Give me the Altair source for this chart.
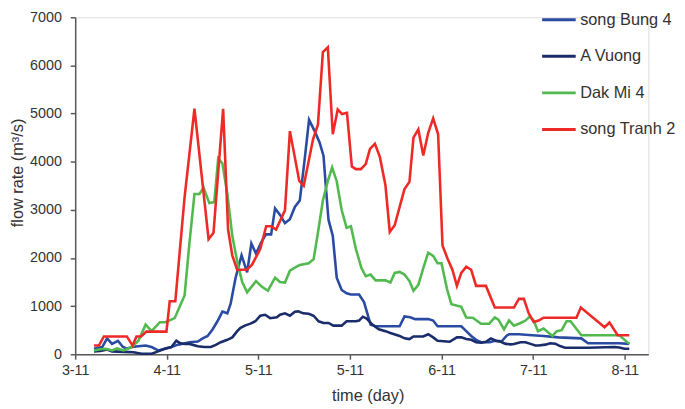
import json
import altair as alt
import pandas as pd

series_names = ["song Bung 4", "A Vuong", "Dak Mi 4", "song Tranh 2"]
series_colors = ["#2B4BA3", "#1B2C6B", "#52B94F", "#EE2A27"]

tick_days = [0, 1, 2, 3, 4, 5, 6]
tick_labels = ["3-11", "4-11", "5-11", "5-11", "6-11", "7-11", "8-11"]
y_ticks = [0, 1000, 2000, 3000, 4000, 5000, 6000, 7000]

bung_days = [0.205, 0.295, 0.348, 0.402, 0.467, 0.521, 0.564, 0.618, 0.690, 0.769, 0.834, 0.906, 0.978, 1.050,
             1.122, 1.176, 1.248, 1.338, 1.392, 1.446, 1.499, 1.553, 1.607, 1.661, 1.697, 1.751, 1.816, 1.877,
             1.923, 1.974, 2.031, 2.082, 2.139, 2.182, 2.236, 2.290, 2.344, 2.398, 2.452, 2.506, 2.553, 2.614,
             2.668, 2.711, 2.740, 2.765, 2.812, 2.855, 2.909, 2.963, 3.010, 3.099, 3.153, 3.225, 3.279, 3.542,
             3.595, 3.657, 3.711, 3.854, 3.908, 3.956, 4.215, 4.269, 4.323, 4.377, 4.430, 4.527, 4.581, 4.657,
             4.707, 4.736, 4.844, 4.951, 5.113, 5.275, 5.526, 5.599, 5.940, 6.049]
bung_vals = [115, 150, 330, 215, 280, 150, 115, 150, 165, 180, 150, 80, 115, 150,
             200, 220, 250, 265, 330, 380, 515, 685, 885, 850, 1050, 1590, 2055, 1700,
             2300, 2090, 2325, 2490, 2490, 3030, 2895, 2725, 2805, 3060, 3195, 4065, 4870, 4635,
             4400, 4120, 3395, 2795, 2460, 1590, 1335, 1265, 1240, 1240, 1085, 615, 580, 580,
             785, 770, 730, 730, 700, 580, 580, 480, 380, 300, 250, 250, 280, 270,
             380, 415, 415, 400, 380, 350, 330, 230, 230, 215]

vuong_days = [0.205, 0.277, 0.348, 0.402, 0.529, 0.636, 0.726, 0.834, 0.906, 0.978, 1.050, 1.104, 1.140, 1.194,
              1.248, 1.338, 1.410, 1.481, 1.535, 1.589, 1.661, 1.715, 1.769, 1.805, 1.859, 1.913, 1.967, 2.021,
              2.074, 2.128, 2.201, 2.236, 2.290, 2.344, 2.398, 2.435, 2.489, 2.549, 2.603, 2.657, 2.711, 2.765,
              2.819, 2.909, 2.963, 3.064, 3.099, 3.140, 3.182, 3.244, 3.315, 3.387, 3.441, 3.542, 3.595, 3.649,
              3.693, 3.800, 3.854, 3.908, 3.956, 4.088, 4.167, 4.215, 4.269, 4.323, 4.377, 4.430, 4.484, 4.538,
              4.592, 4.646, 4.700, 4.754, 4.790, 4.862, 4.916, 4.970, 5.024, 5.059, 5.132, 5.186, 5.240, 5.293,
              5.347, 5.599, 5.887, 5.940, 5.995, 6.049]
vuong_vals = [60, 70, 100, 60, 50, 40, 10, 10, 60, 115, 150, 280, 235, 215,
              215, 165, 150, 150, 195, 250, 300, 350, 480, 550, 600, 635, 685, 800,
              820, 750, 770, 820, 850, 800, 885, 890, 850, 840, 800, 685, 650, 650,
              595, 595, 685, 685, 700, 780, 740, 615, 520, 480, 440, 380, 330, 315,
              370, 370, 415, 350, 280, 260, 350, 350, 315, 300, 250, 240, 260, 330,
              280, 260, 215, 205, 215, 250, 250, 215, 180, 180, 200, 230, 220, 170,
              135, 135, 150, 140, 115, 115]

dakmi_days = [0.205, 0.259, 0.331, 0.402, 0.456, 0.529, 0.618, 0.690, 0.769, 0.834, 0.924, 0.985, 1.086, 1.140,
              1.194, 1.248, 1.302, 1.356, 1.402, 1.464, 1.518, 1.561, 1.607, 1.661, 1.715, 1.769, 1.823, 1.877,
              1.974, 2.039, 2.104, 2.182, 2.236, 2.290, 2.344, 2.398, 2.452, 2.549, 2.603, 2.650, 2.704, 2.758,
              2.805, 2.855, 2.909, 2.963, 3.010, 3.064, 3.125, 3.172, 3.225, 3.279, 3.387, 3.441, 3.488, 3.542,
              3.595, 3.649, 3.693, 3.746, 3.800, 3.854, 3.908, 3.956, 3.999, 4.059, 4.107, 4.215, 4.269, 4.340,
              4.430, 4.520, 4.581, 4.620, 4.682, 4.736, 4.790, 4.862, 4.916, 4.962, 5.005, 5.052, 5.113, 5.210,
              5.257, 5.311, 5.364, 5.408, 5.526, 5.940, 6.049]
dakmi_vals = [80, 100, 115, 80, 120, 80, 150, 280, 615, 480, 665, 665, 750, 985,
              1220, 2325, 3330, 3330, 3460, 3140, 3160, 4065, 3965, 3330, 2460, 1925, 1500, 1285,
              1520, 1400, 1320, 1590, 1500, 1490, 1735, 1800, 1855, 1890, 1975, 2525, 3195, 3595,
              3880, 3595, 2995, 2625, 2660, 2190, 1790, 1620, 1655, 1535, 1535, 1490, 1690, 1710,
              1655, 1520, 1320, 1440, 1790, 2110, 2045, 1890, 1890, 1355, 1040, 985, 765, 760,
              635, 635, 765, 720, 515, 705, 595, 650, 700, 785, 700, 480, 535, 380,
              480, 500, 685, 685, 395, 395, 215]

tranh_days = [0.205, 0.259, 0.313, 0.564, 0.626, 0.669, 0.720, 0.777, 0.996, 1.032, 1.093, 1.194, 1.302, 1.456,
              1.510, 1.615, 1.669, 1.715, 1.769, 1.877, 1.931, 2.021, 2.085, 2.139, 2.193, 2.290, 2.344, 2.446,
              2.495, 2.597, 2.650, 2.704, 2.758, 2.812, 2.866, 2.913, 2.967, 3.020, 3.064, 3.118, 3.172, 3.218,
              3.272, 3.326, 3.387, 3.434, 3.488, 3.542, 3.595, 3.649, 3.693, 3.746, 3.800, 3.854, 3.908, 3.962,
              4.010, 4.064, 4.118, 4.167, 4.215, 4.269, 4.323, 4.377, 4.484, 4.581, 4.790, 4.844, 4.898, 4.951,
              5.005, 5.059, 5.113, 5.472, 5.520, 5.779, 5.833, 5.922, 6.049]
tranh_vals = [180, 180, 370, 370, 180, 370, 370, 470, 470, 1100, 1100, 3260, 5100, 2390,
              2525, 5100, 2590, 2055, 1750, 1760, 1860, 2190, 2660, 2660, 2590, 2990, 4635, 3600,
              3500, 4470, 4770, 6275, 6375, 4570, 5085, 4990, 5015, 3900, 3845, 3845, 3950, 4265,
              4370, 4100, 3510, 2540, 2680, 3060, 3430, 3580, 4500, 4670, 4130, 4600, 4900, 4570,
              2260, 1990, 1755, 1420, 1690, 1820, 1755, 1420, 1420, 970, 970, 1150, 1150, 850,
              670, 700, 760, 760, 970, 560, 660, 395, 395]

rows = []
for name, days, vals in [
    (series_names[0], bung_days, bung_vals),
    (series_names[1], vuong_days, vuong_vals),
    (series_names[2], dakmi_days, dakmi_vals),
    (series_names[3], tranh_days, tranh_vals),
]:
    assert len(days) == len(vals), name
    rows += [{"series": name, "day": d, "flow": v} for d, v in zip(days, vals)]
df = pd.DataFrame(rows)

label_expr = json.dumps(tick_labels) + "[round(datum.value)]"
text_color = "#333333"
axis_color = "#595959"

chart = alt.Chart(df).mark_line(strokeWidth=2.6).encode(
    x=alt.X(
        "day:Q",
        scale=alt.Scale(domain=[0, 6.257], nice=False, zero=False),
        axis=alt.Axis(
            values=tick_days, labelExpr=label_expr, title="time (day)", grid=False,
            labelFlush=False, labelOverlap=False,
            tickSize=5, labelPadding=4, labelFontSize=14.5, titleFontSize=16.5,
            titleFontWeight="normal", titleX=296, titleY=42, titleBaseline="middle",
            labelColor=text_color, titleColor=text_color,
            domainColor=axis_color, tickColor=axis_color, domainWidth=1.5, tickWidth=1.5,
        ),
    ),
    y=alt.Y(
        "flow:Q",
        scale=alt.Scale(domain=[0, 7000], nice=False),
        axis=alt.Axis(
            values=y_ticks, format="d", title="flow rate (m³/s)", grid=False,
            labelFlush=False,
            tickSize=5, labelPadding=9, labelFontSize=14.5, titleFontSize=16.5,
            titleFontWeight="normal", titleX=-58, titleY=157, titleBaseline="middle",
            labelColor=text_color, titleColor=text_color,
            domainColor=axis_color, tickColor=axis_color, domainWidth=1.5, tickWidth=1.5,
        ),
    ),
    color=alt.Color(
        "series:N",
        scale=alt.Scale(domain=series_names, range=series_colors),
        legend=alt.Legend(
            title=None, orient="none", legendX=471, legendY=-16, direction="vertical",
            symbolType="stroke", symbolSize=1156, symbolStrokeWidth=3,
            labelFontSize=16.5, labelOffset=3, labelColor=text_color,
            rowPadding=10, padding=0,
        ),
    ),
).properties(
    width=580,
    height=341,
    autosize=alt.AutoSizeParams(type="none"),
    padding={"left": 68, "top": 7, "right": 29, "bottom": 52},
).configure_view(stroke=None).configure(font="Liberation Sans")

chart.save("out.html", embed_options={"renderer": "svg", "actions": False})
